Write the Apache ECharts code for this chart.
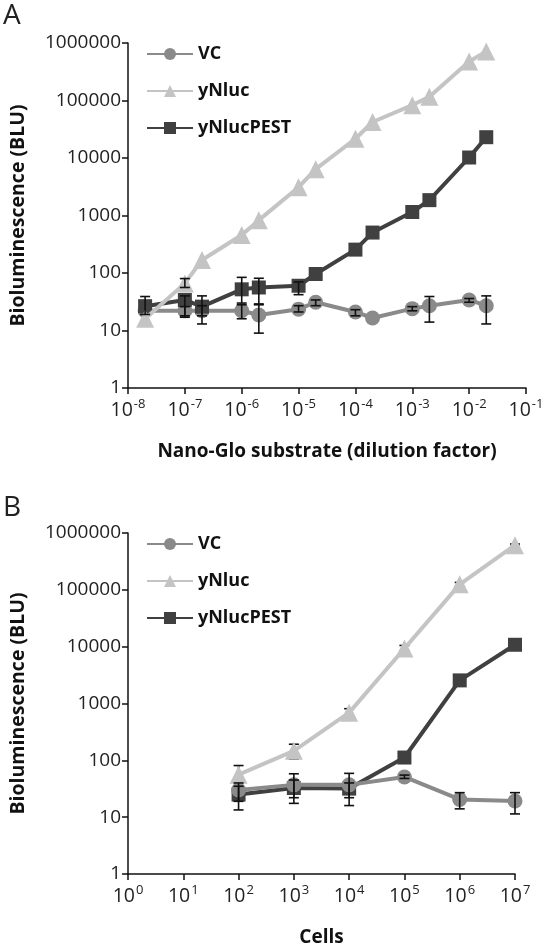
<!DOCTYPE html>
<html><head><meta charset="utf-8">
<script src="https://cdn.jsdelivr.net/npm/echarts@6/dist/echarts.min.js"></script>
<style>html,body{margin:0;padding:0;background:#fff}#c{width:551px;height:948px}</style>
</head><body><div id="c"></div>
<script>
// ---- data ----
const seriesNames = ['VC', 'yNluc', 'yNlucPEST'];
const panelLabels = ['A', 'B'];
const xTitleA = 'Nano-Glo substrate (dilution factor)';
const xTitleB = 'Cells';
const yTitle = 'Bioluminescence (BLU)';

// Panel A (dilution factor)
const xA = [2e-8, 1e-7, 2e-7, 1e-6, 2e-6, 1e-5, 2e-5, 1e-4, 2e-4, 1e-3, 2e-3, 1e-2, 2e-2];
const vcA = [22, 22, 22, 22, 18.6, 23.5, 31, 21, 16.5, 24, 27, 34, 27];
const ynlucA = [16, 66, 168, 457, 830, 3100, 6400, 21600, 42300, 83000, 116000, 475000, 714000];
const pestA = [26.5, 34, 26, 52, 56, 60, 96, 255, 505, 1150, 1850, 10200, 23000];
// error bars [x, low, high]
const vcErrA = [[1e-7, 18, 26], [2e-7, 18, 27], [1e-6, 16, 28], [2e-6, 9, 28], [1e-5, 21, 27], [2e-5, 27, 34],
  [1e-4, 18, 23], [1e-3, 22, 26], [2e-3, 14, 39], [1e-2, 31, 36], [2e-2, 13, 40]];
const ynlucErrA = [[1e-7, 56, 80]];
const pestErrA = [[2e-8, 19, 39], [1e-7, 17, 40], [2e-7, 13, 40], [1e-6, 30, 84], [2e-6, 29, 81], [1e-5, 42, 70]];

// Panel B (cells)
const xB = [1e2, 1e3, 1e4, 1e5, 1e6, 1e7];
const vcB = [30, 37, 37, 51, 20.5, 19.2];
const ynlucB = [56, 147, 690, 9300, 125000, 610000];
const pestB = [25, 32.6, 31.8, 112, 2550, 10800];
const vcErrB = [[1e2, 19, 40], [1e3, 22, 58], [1e4, 22, 59], [1e5, 48, 55], [1e6, 14, 27], [1e7, 11.4, 27]];
const ynlucErrB = [[1e2, 40, 81], [1e3, 105, 192], [1e4, 600, 810], [1e5, 8500, 10500], [1e6, 115000, 135000], [1e7, 580000, 640000]];
const pestErrB = [[1e2, 13.4, 35], [1e3, 17.5, 45], [1e4, 16, 40]];

// ---- style ----
const FONT = 'Open Sans';
const colors = { 'VC': '#8a8a8a', 'yNluc': '#c4c4c4', 'yNlucPEST': '#404040' };
const symbols = { 'VC': 'circle', 'yNluc': 'triangle', 'yNlucPEST': 'rect' };
const symSize = { 'VC': 15, 'yNluc': 18, 'yNlucPEST': 14 };

function zip(xs, ys) { return xs.map((x, i) => [x, ys[i]]); }

function errRender(params, api) {
  const x = api.value(0), lo = api.value(1), hi = api.value(2);
  const p1 = api.coord([x, hi]), p2 = api.coord([x, lo]);
  const w = 5;
  const style = { stroke: '#111', lineWidth: 1.6 };
  return { type: 'group', children: [
    { type: 'line', shape: { x1: p1[0], y1: p1[1], x2: p2[0], y2: p2[1] }, style },
    { type: 'line', shape: { x1: p1[0] - w, y1: p1[1], x2: p1[0] + w, y2: p1[1] }, style },
    { type: 'line', shape: { x1: p2[0] - w, y1: p2[1], x2: p2[0] + w, y2: p2[1] }, style }
  ]};
}

function lineSeries(name, idx, xs, ys, z) {
  return {
    type: 'line', name, xAxisIndex: idx, yAxisIndex: idx, data: zip(xs, ys),
    symbol: symbols[name], symbolSize: symSize[name], showAllSymbol: true,
    lineStyle: { color: colors[name], width: 4 }, itemStyle: { color: colors[name] },
    z, animation: false
  };
}
function errSeries(idx, data, z) {
  return { type: 'custom', xAxisIndex: idx, yAxisIndex: idx, data, renderItem: errRender,
    encode: { x: 0, y: [1, 2] }, z, animation: false, silent: true };
}

const supLabel = {
  formatter: v => '{b|10}{s|' + Math.round(Math.log10(v)) + '}',
  margin: 10,
  rich: {
    b: { fontFamily: FONT, fontSize: 19.5, color: '#222' },
    s: { fontFamily: FONT, fontSize: 13, color: '#222', verticalAlign: 'top', padding: [0, 0, 11, 1] }
  }
};
function xAxis(idx, min, max, title) {
  return {
    type: 'log', logBase: 10, gridIndex: idx, min, max,
    axisLine: { lineStyle: { color: '#111', width: 1.5 } },
    axisTick: { show: true, length: 6, lineStyle: { color: '#111', width: 1.5 } },
    minorTick: { show: false }, splitLine: { show: false },
    axisLabel: supLabel,
    name: title, nameLocation: 'middle', nameGap: 54,
    nameTextStyle: { fontFamily: FONT, fontSize: 19, fontWeight: 'bold', color: '#111' }
  };
}
function yAxis(idx) {
  return {
    type: 'log', logBase: 10, gridIndex: idx, min: 1, max: 1000000,
    axisLine: { show: true, lineStyle: { color: '#111', width: 1.5 } },
    axisTick: { show: true, length: 6, lineStyle: { color: '#111', width: 1.5 } },
    splitLine: { show: false }, minorTick: { show: false },
    axisLabel: { formatter: v => String(Math.round(v)), fontFamily: FONT, fontSize: 19, color: '#222', margin: 7 },
    name: yTitle, nameLocation: 'middle', nameGap: 100, nameRotate: 90,
    nameTextStyle: { fontFamily: FONT, fontSize: 19.5, fontWeight: 'bold', color: '#111' }
  };
}
function legend(top) {
  return {
    data: seriesNames, orient: 'vertical', left: 141, top, itemWidth: 46, itemHeight: 15, itemGap: 19,
    textStyle: { fontFamily: FONT, fontSize: 18, fontWeight: 'bold', color: '#111' },
    selectedMode: false
  };
}

const chart = echarts.init(document.getElementById('c'), null, { renderer: 'canvas' });
chart.setOption({
  backgroundColor: '#fff',
  animation: false,
  grid: [
    { left: 128, right: 25, top: 43, height: 345 },
    { left: 128, right: 36, top: 533, height: 347 }
  ],
  xAxis: [xAxis(0, 1e-8, 1e-1, xTitleA), xAxis(1, 1, 1e7, xTitleB)],
  yAxis: [yAxis(0), yAxis(1)],
  legend: [legend(40), legend(530)],
  graphic: [
    { type: 'text', left: 3, top: 2, style: { text: panelLabels[0], fontFamily: FONT, fontSize: 28, fill: '#222' } },
    { type: 'text', left: 3, top: 494, style: { text: panelLabels[1], fontFamily: FONT, fontSize: 28, fill: '#222' } }
  ],
  series: [
    lineSeries('VC', 0, xA, vcA, 2),
    lineSeries('yNlucPEST', 0, xA, pestA, 3),
    lineSeries('yNluc', 0, xA, ynlucA, 4),
    errSeries(0, vcErrA, 5), errSeries(0, pestErrA, 5), errSeries(0, ynlucErrA, 5),
    lineSeries('yNlucPEST', 1, xB, pestB, 2),
    lineSeries('VC', 1, xB, vcB, 3),
    lineSeries('yNluc', 1, xB, ynlucB, 4),
    errSeries(1, vcErrB, 5), errSeries(1, pestErrB, 5), errSeries(1, ynlucErrB, 1)
  ]
});
</script></body></html>
